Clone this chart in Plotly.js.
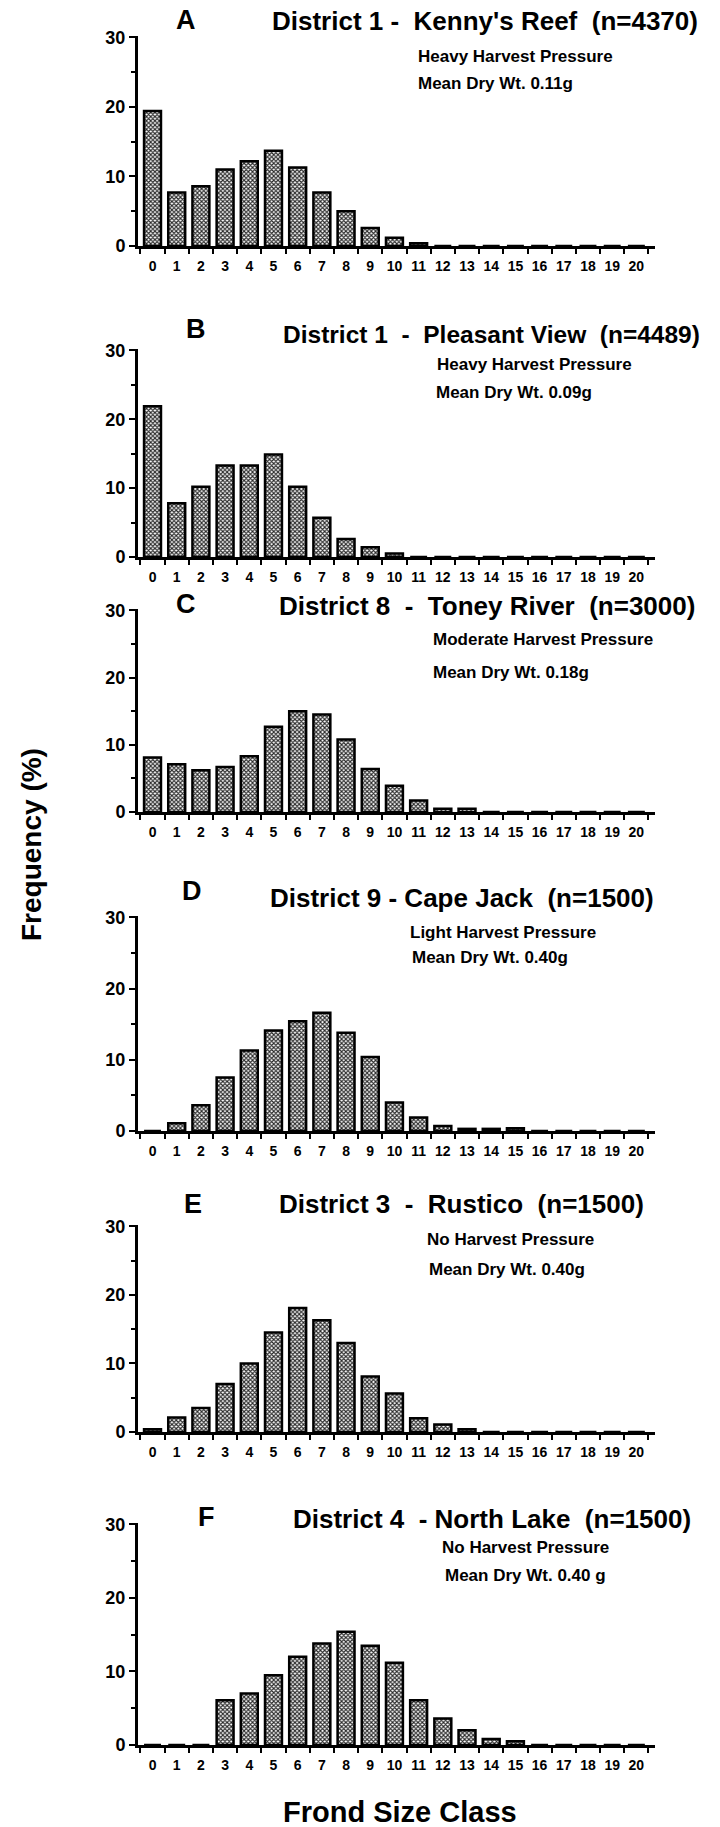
<!DOCTYPE html>
<html>
<head>
<meta charset="utf-8">
<script src="https://cdn.plot.ly/plotly-3.0.1.min.js"></script>
<style>html,body{margin:0;padding:0;background:#fff}</style>
</head>
<body>
<div id="chart" style="width:720px;height:1827px"></div>
<script>
// ---- data ----
const sizeClasses = ["0","1","2","3","4","5","6","7","8","9","10","11","12","13","14","15","16","17","18","19","20"];
const freqKennysReef   = [19.4, 7.7, 8.6, 11.0, 12.2, 13.7, 11.3, 7.7, 5.0, 2.6, 1.2, 0.4, 0, 0, 0, 0, 0, 0, 0, 0, 0];
const freqPleasantView = [21.9, 7.8, 10.2, 13.3, 13.3, 14.9, 10.2, 5.7, 2.6, 1.4, 0.5, 0, 0, 0, 0, 0, 0, 0, 0, 0, 0];
const freqToneyRiver   = [8.1, 7.1, 6.2, 6.7, 8.3, 12.7, 15.0, 14.5, 10.8, 6.4, 3.9, 1.7, 0.5, 0.5, 0, 0, 0, 0, 0, 0, 0];
const freqCapeJack     = [0, 1.1, 3.6, 7.5, 11.3, 14.1, 15.4, 16.6, 13.8, 10.4, 4.0, 1.9, 0.7, 0.3, 0.3, 0.4, 0, 0, 0, 0, 0];
const freqRustico      = [0.4, 2.1, 3.5, 7.0, 10.0, 14.5, 18.1, 16.3, 13.0, 8.1, 5.6, 2.0, 1.1, 0.4, 0, 0, 0, 0, 0, 0, 0];
const freqNorthLake    = [0, 0, 0, 6.1, 7.0, 9.5, 12.0, 13.8, 15.4, 13.5, 11.2, 6.1, 3.6, 2.0, 0.8, 0.5, 0, 0, 0, 0, 0];
const yTickVals = [0, 10, 20, 30];
const panelLetters = ["A", "B", "C", "D", "E", "F"];
const panelTitles = [
  "District 1 -  Kenny's Reef  (n=4370)",
  "District 1  -  Pleasant View  (n=4489)",
  "District 8  -  Toney River  (n=3000)",
  "District 9 - Cape Jack  (n=1500)",
  "District 3  -  Rustico  (n=1500)",
  "District 4  - North Lake  (n=1500)"
];
const pressureLabels = ["Heavy Harvest Pressure", "Heavy Harvest Pressure", "Moderate Harvest Pressure",
  "Light Harvest Pressure", "No Harvest Pressure", "No Harvest Pressure"];
const dryWtLabels = ["Mean Dry Wt. 0.11g", "Mean Dry Wt. 0.09g", "Mean Dry Wt. 0.18g",
  "Mean Dry Wt. 0.40g", "Mean Dry Wt. 0.40g", "Mean Dry Wt. 0.40 g"];
const series = [freqKennysReef, freqPleasantView, freqToneyRiver, freqCapeJack, freqRustico, freqNorthLake];

// ---- layout geometry (pixels) ----
const W = 720, H = 1827;
const plotLeft = 138, plotRight = 655;
const panelTop    = [36, 349, 609, 916, 1225, 1523];
const panelBottom = [246, 557, 812, 1131, 1432, 1745];
const letterPos = [[186, 20], [196, 329], [186, 604], [192, 891], [193, 1204], [207, 1517]];
const titlePos  = [[270, 21], [281, 335], [277, 606], [268, 898], [277, 1204], [291, 1519]];
const titleSize = [26, 24.5, 26, 26, 26, 26];
const sub1Pos   = [[416, 56], [435, 365], [431, 640], [408, 932], [425, 1239], [440, 1547]];
const sub2Pos   = [[416, 84], [434, 392], [431, 672], [410, 958], [427, 1269], [443, 1575]];

const FONT = "Liberation Sans, Arial, sans-serif";
const px = x => x / W;
const py = y => 1 - y / H;

const data = [];
const layout = {
  width: W, height: H,
  margin: {l: 0, r: 0, t: 0, b: 0},
  paper_bgcolor: "#fff", plot_bgcolor: "rgba(0,0,0,0)",
  showlegend: false,
  font: {family: FONT, color: "#000"},
  annotations: []
};

series.forEach((vals, i) => {
  const n = i === 0 ? "" : String(i + 1);
  data.push({
    type: "bar",
    x: sizeClasses,
    y: vals,
    xaxis: "x" + n,
    yaxis: "y" + n,
    width: 0.7,
    marker: {
      color: "#fff",
      line: {color: "#000", width: 2.5},
      pattern: {shape: "x", fgcolor: "#2a2a2a", bgcolor: "#fff", size: 3, solidity: 0.6}
    },
    hoverinfo: "x+y"
  });
  layout["xaxis" + n] = {
    domain: [px(plotLeft), px(plotRight)],
    anchor: "y" + n,
    type: "category",
    range: [-0.6, 20.77],
    showline: true, linewidth: 3, linecolor: "#000",
    ticks: "outside", tickson: "boundaries", ticklen: 5, tickwidth: 2, tickcolor: "#000",
    tickangle: 0, ticklabelstandoff: 5,
    tickfont: {family: FONT, size: 14, color: "#000", weight: "bold"},
    showgrid: false, zeroline: false, fixedrange: true
  };
  layout["yaxis" + n] = {
    domain: [py(panelBottom[i]), py(panelTop[i])],
    anchor: "x" + n,
    range: [0, 30.2],
    tickmode: "array", tickvals: yTickVals,
    showline: true, linewidth: 3, linecolor: "#000",
    ticks: "outside", ticklen: 6, tickwidth: 2, tickcolor: "#000",
    minor: {dtick: 5, ticks: "outside", ticklen: 4, tickwidth: 2, tickcolor: "#000", showgrid: false},
    tickfont: {family: FONT, size: 18, color: "#000", weight: "bold"},
    showgrid: false, zeroline: false, fixedrange: true
  };
  const ann = (text, pos, size, anchor) => ({
    text: text, x: px(pos[0]), y: py(pos[1]), xref: "paper", yref: "paper",
    xanchor: anchor || "left", yanchor: "middle", showarrow: false,
    font: {family: FONT, size: size, color: "#000", weight: "bold"}
  });
  layout.annotations.push(ann(panelLetters[i], letterPos[i], 27, "center"));
  layout.annotations.push(ann(panelTitles[i], titlePos[i], titleSize[i]));
  layout.annotations.push(ann(pressureLabels[i], sub1Pos[i], 17));
  layout.annotations.push(ann(dryWtLabels[i], sub2Pos[i], 17));
});

layout.annotations.push({
  text: "Frequency (%)", x: px(31), y: py(845), xref: "paper", yref: "paper",
  textangle: -90, showarrow: false, xanchor: "center", yanchor: "middle",
  font: {family: FONT, size: 28, color: "#000", weight: "bold"}
});
layout.annotations.push({
  text: "Frond Size Class", x: px(400), y: py(1812), xref: "paper", yref: "paper",
  showarrow: false, xanchor: "center", yanchor: "middle",
  font: {family: FONT, size: 29, color: "#000", weight: "bold"}
});

Plotly.newPlot("chart", data, layout, {staticPlot: true, displayModeBar: false});
</script>
</body>
</html>
